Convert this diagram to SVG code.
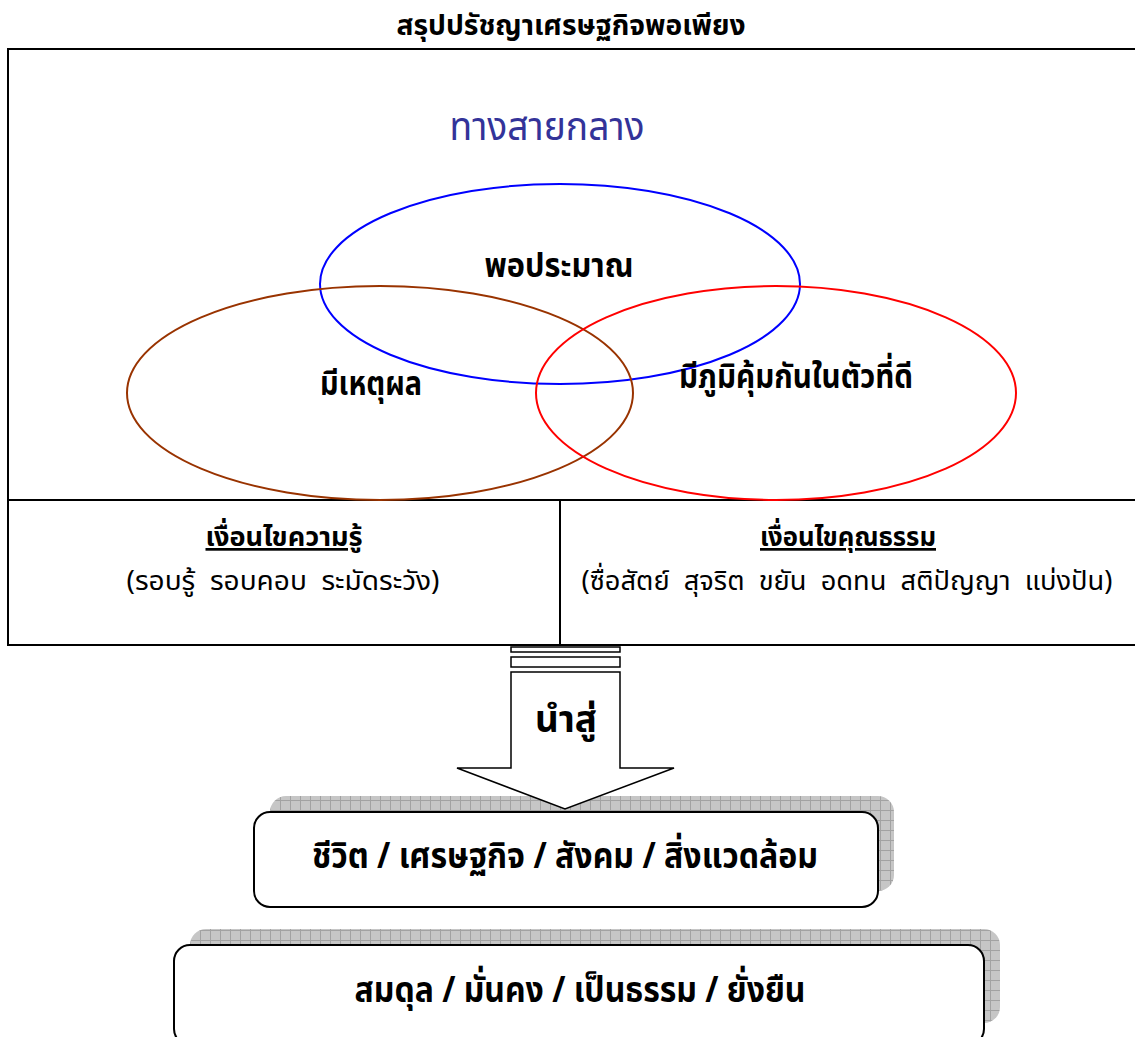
<svg xmlns="http://www.w3.org/2000/svg" width="1135" height="1037" viewBox="0 0 1135 1037">
<defs>
<pattern id="grid" width="10" height="10" patternUnits="userSpaceOnUse">
<rect width="10" height="10" fill="#c6c6c6"/>
<path d="M0 0.5H10M0.5 0V10" stroke="#a2a2a2" stroke-width="1"/>
</pattern>
<style>
text{font-family:"Noto Sans Thai","Noto Sans","DejaVu Sans",sans-serif;fill:#000;text-anchor:middle}
.b{font-weight:bold}
.frame{fill:none;stroke:#000;stroke-width:2}
.shadow{fill:url(#grid);stroke:none}
.card{fill:#fff;stroke:#000;stroke-width:2}
.arr{fill:#fff;stroke:#000;stroke-width:1.5}
</style>
</defs>
<rect width="1135" height="1037" fill="#fff"/>
<text class="b" x="571" y="35" font-size="29" textLength="349" lengthAdjust="spacingAndGlyphs">สรุปปรัชญาเศรษฐกิจพอเพียง</text>

<g id="frame">
<rect class="frame" x="8" y="49" width="1140" height="596"/>
<line x1="8" y1="500" x2="1140" y2="500" stroke="#000" stroke-width="2"/>
<line x1="560" y1="500" x2="560" y2="645" stroke="#000" stroke-width="2"/>
</g>

<g id="middle-way">
<text x="547" y="140" font-size="40" textLength="195" lengthAdjust="spacingAndGlyphs" style="fill:#333399">ทางสายกลาง</text>
</g>

<g id="moderation">
<ellipse cx="560" cy="284" rx="240" ry="100" fill="none" stroke="#0000ff" stroke-width="2"/>
<text class="b" x="559" y="277" font-size="34" textLength="149" lengthAdjust="spacingAndGlyphs">พอประมาณ</text>
</g>
<g id="reasonable">
<ellipse cx="380" cy="393" rx="253" ry="107" fill="none" stroke="#993300" stroke-width="2"/>
<text class="b" x="371" y="395" font-size="34" textLength="102" lengthAdjust="spacingAndGlyphs">มีเหตุผล</text>
</g>
<g id="immunity">
<ellipse cx="776" cy="393" rx="240" ry="107" fill="none" stroke="#ff0000" stroke-width="2"/>
<text class="b" x="796" y="388" font-size="34" textLength="234" lengthAdjust="spacingAndGlyphs">มีภูมิคุ้มกันในตัวที่ดี</text>
</g>

<g id="knowledge">
<text class="b" x="284" y="546" font-size="27" textLength="157" lengthAdjust="spacingAndGlyphs" text-decoration="underline">เงื่อนไขความรู้</text>
<text x="283" y="590" font-size="27" textLength="313" lengthAdjust="spacingAndGlyphs" xml:space="preserve">(รอบรู้  รอบคอบ  ระมัดระวัง)</text>
</g>
<g id="morality">
<text class="b" x="848" y="546" font-size="27" textLength="176" lengthAdjust="spacingAndGlyphs" text-decoration="underline">เงื่อนไขคุณธรรม</text>
<text x="847" y="590" font-size="27" textLength="531" lengthAdjust="spacingAndGlyphs" xml:space="preserve">(ซื่อสัตย์  สุจริต  ขยัน  อดทน  สติปัญญา  แบ่งปัน)</text>
</g>

<g id="life">
<rect class="shadow" x="270" y="796" width="624" height="95" rx="16"/>
<rect class="card" x="254" y="812" width="624" height="95" rx="16"/>
<text class="b" x="565" y="868" font-size="36" textLength="506" lengthAdjust="spacingAndGlyphs">ชีวิต / เศรษฐกิจ / สังคม / สิ่งแวดล้อม</text>
</g>
<g id="balance">
<rect class="shadow" x="190" y="929" width="810" height="94" rx="16"/>
<rect class="card" x="174" y="945" width="810" height="100" rx="16"/>
<text class="b" x="580" y="1002" font-size="36" textLength="451" lengthAdjust="spacingAndGlyphs">สมดุล / มั่นคง / เป็นธรรม / ยั่งยืน</text>
</g>

<g id="connectors">
<rect class="arr" x="511" y="647" width="109" height="5"/>
<rect class="arr" x="511" y="657" width="109" height="10"/>
<path class="arr" d="M511 672H620V768H674L565 809L457 768H511Z"/>
</g>
<g id="leads-to">
<text class="b" x="566" y="732" font-size="38" textLength="62" lengthAdjust="spacingAndGlyphs">นำสู่</text>
</g>
</svg>
